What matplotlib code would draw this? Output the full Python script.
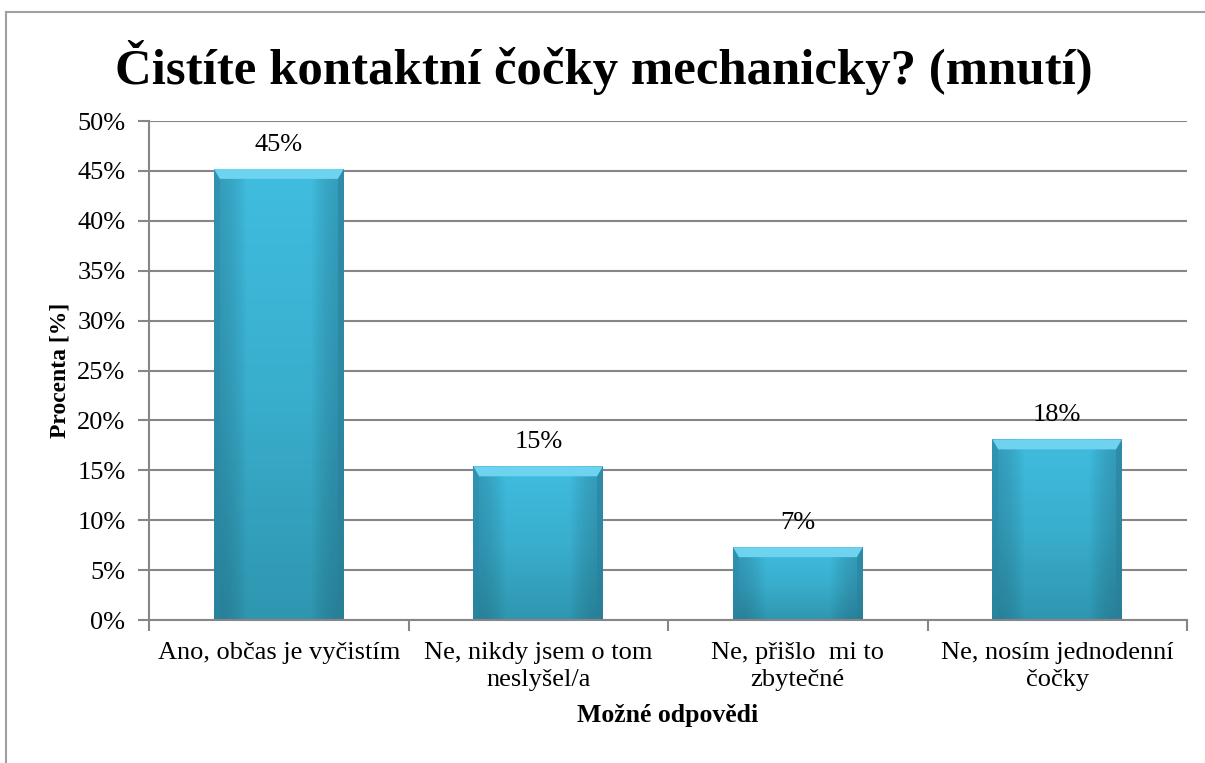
import numpy as np
import matplotlib
matplotlib.use('Agg')
import matplotlib.pyplot as plt
from matplotlib.lines import Line2D
from matplotlib.patches import Polygon
from matplotlib.colors import LinearSegmentedColormap
from matplotlib.ticker import FixedLocator, PercentFormatter

categories = ["Ano, občas je vyčistím", "Ne, nikdy jsem o tom\nneslyšel/a",
              "Ne, přišlo  mi to\nzbytečné", "Ne, nosím jednodenní\nčočky"]
values = [45.2, 15.4, 7.3, 18.1]
labels = ["45%", "15%", "7%", "18%"]
yticks = [0, 5, 10, 15, 20, 25, 30, 35, 40, 45, 50]

plt.rcParams['font.family'] = ['Liberation Serif', 'DejaVu Serif']
grid_col = '#868686'

fig = plt.figure(figsize=(12.05, 7.63), dpi=100)
fig.patch.set_facecolor('white')
# chart-area border (only top and left visible in the reference)
fig.add_artist(Line2D([0.005, 1.0], [0.984, 0.984], color='#a0a0a0', lw=1.5))
fig.add_artist(Line2D([0.005, 0.005], [0.0, 0.984], color='#a0a0a0', lw=1.5))

ax = fig.add_axes([0.1237, 0.1874, 0.8614, 0.654])
x = np.arange(len(categories))
width = 0.5

ax.set_xlim(-0.5, len(categories) - 0.5)
ax.set_ylim(0, 50)
ax.yaxis.set_major_locator(FixedLocator(yticks))
ax.yaxis.set_major_formatter(PercentFormatter(decimals=0))
ax.grid(axis='y', color=grid_col, lw=1.5, zorder=0)
ax.set_axisbelow(True)

for s in ['top', 'right']:
    ax.spines[s].set_visible(False)
for s in ['left', 'bottom']:
    ax.spines[s].set_color(grid_col)
    ax.spines[s].set_linewidth(1.5)

ax.tick_params(axis='y', length=8, width=1.5, color=grid_col, labelsize=19, pad=9)
ax.set_xticks(np.arange(len(categories) + 1) - 0.5)
ax.set_xticklabels([])
ax.tick_params(axis='x', which='major', length=8, width=1.5, color=grid_col)
ax.set_xticks(x, minor=True)
ax.set_xticklabels(categories, minor=True, fontsize=19, linespacing=1.3)
ax.tick_params(axis='x', which='minor', length=0, pad=16)

# bevelled gradient bars
grad = np.linspace(0, 1, 256).reshape(-1, 1)
cmap = LinearSegmentedColormap.from_list('bar', ['#2f96b0', '#39aecd', '#40bde0'])
hgrad = np.abs(np.linspace(-1, 1, 64)).reshape(1, -1)
edge_cmap = LinearSegmentedColormap.from_list('edge', [(0, 0, 0, 0), (0, 0, 0, 0), (0.1, 0.3, 0.4, 0.3)])

bars = ax.bar(x, values, width=width, color='none', zorder=2)
for b, v, lab in zip(bars, values, labels):
    x0, x1 = b.get_x(), b.get_x() + b.get_width()
    im = ax.imshow(grad, extent=[x0, x1, 0, v], origin='lower', cmap=cmap,
                   aspect='auto', zorder=2)
    im.set_clip_path(b)
    im2 = ax.imshow(hgrad, extent=[x0, x1, 0, v], origin='lower', cmap=edge_cmap,
                    aspect='auto', zorder=2.1, vmin=0, vmax=1)
    im2.set_clip_path(b)
    bw = 0.022
    bh = 1.0
    ax.add_patch(Polygon([[x0, v], [x1, v], [x1 - bw, v - bh], [x0 + bw, v - bh]],
                         closed=True, facecolor='#6dd3ee', edgecolor='none', zorder=2.2))
    ax.add_patch(Polygon([[x1, v], [x1, 0], [x1 - bw, 0], [x1 - bw, v - bh]],
                         closed=True, facecolor='#2a7f98', edgecolor='none', alpha=0.5, zorder=2.2))
    ax.add_patch(Polygon([[x0, v], [x0, 0], [x0 + bw, 0], [x0 + bw, v - bh]],
                         closed=True, facecolor='#2a88a3', edgecolor='none', alpha=0.4, zorder=2.2))
    ax.text(b.get_x() + b.get_width() / 2, v + 1.3, lab, ha='center', va='bottom',
            fontsize=19, zorder=3)

ax.set_ylabel('Procenta [%]', fontsize=17, fontweight='bold', labelpad=5)
ax.set_xlabel('Možné odpovědi', fontsize=18.5, fontweight='bold', labelpad=9)
fig.text(0.501, 0.911, 'Čistíte kontaktní čočky mechanicky? (mnutí)', ha='center',
         va='center', fontsize=36.5, fontweight='bold')

fig.savefig('out.png', dpi=100, facecolor='white')
